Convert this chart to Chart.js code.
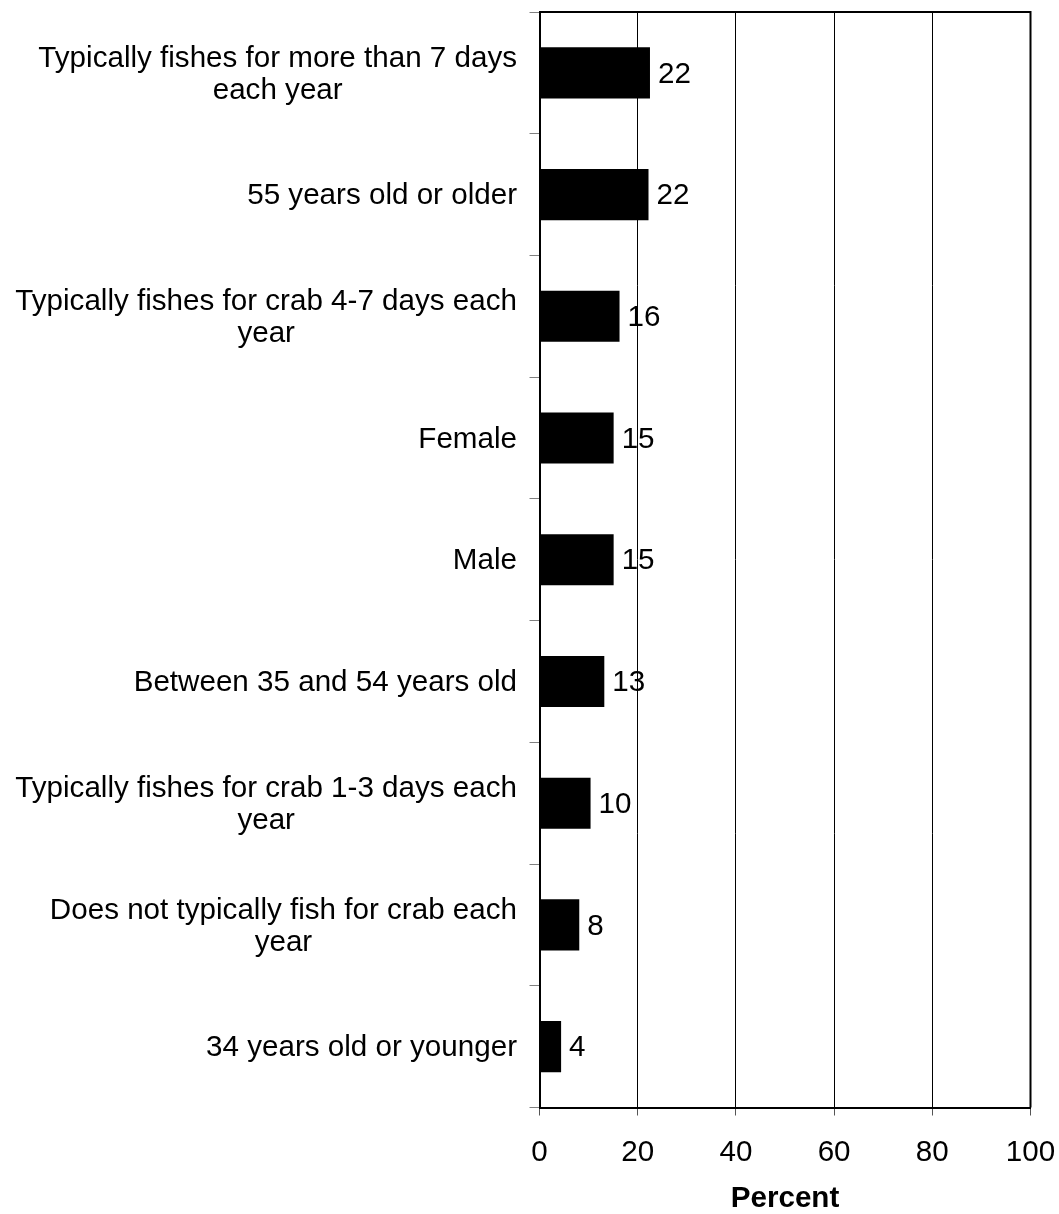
<!DOCTYPE html>
<html>
<head>
<meta charset="utf-8">
<script src="https://cdn.jsdelivr.net/npm/chart.js@4.4.1/dist/chart.umd.min.js"></script>
<style>
  body { margin: 0; background: #fff; }
  #wrap { width: 1059px; height: 1214px; position: relative; }
</style>
</head>
<body>
<div id="wrap"><canvas id="chart"></canvas></div>
<script>
const categories = [
  ["Typically fishes for more than 7 days", "each year"],
  ["55 years old or older"],
  ["Typically fishes for crab 4-7 days each", "year"],
  ["Female"],
  ["Male"],
  ["Between 35 and 54 years old"],
  ["Typically fishes for crab 1-3 days each", "year"],
  ["Does not typically fish for crab each", "year"],
  ["34 years old or younger"]
];
const percents = [22.5, 22.2, 16.3, 15.1, 15.1, 13.2, 10.4, 8.1, 4.4];
const shownLabels = ["22", "22", "16", "15", "15", "13", "10", "8", "4"];
const xTicks = [0, 20, 40, 60, 80, 100];

const FONT = "'Liberation Sans', Arial, sans-serif";
const SIZE = 29.6;

// category labels: right aligned block, extra lines centred under the first
const catLabels = {
  id: 'catLabels',
  afterDraw(chart) {
    const ctx = chart.ctx;
    const y = chart.scales.y;
    const right = chart.chartArea.left - 22.5;
    ctx.save();
    ctx.font = SIZE + "px " + FONT;
    ctx.fillStyle = "#000";
    ctx.textAlign = "center";
    ctx.textBaseline = "middle";
    const lh = 32;
    categories.forEach((lines, i) => {
      const cy = y.getPixelForTick(i) + 1.5;
      const w = Math.max(...lines.map(l => ctx.measureText(l).width));
      const cx = right - w / 2;
      const top = cy - (lines.length - 1) * lh / 2;
      lines.forEach((l, j) => ctx.fillText(l, cx, top + j * lh));
    });
    ctx.restore();
  }
};

const valueLabels = {
  id: 'valueLabels',
  afterDatasetsDraw(chart) {
    const ctx = chart.ctx;
    const meta = chart.getDatasetMeta(0);
    ctx.save();
    ctx.font = SIZE + "px " + FONT;
    ctx.fillStyle = "#000";
    ctx.textAlign = "left";
    ctx.textBaseline = "middle";
    meta.data.forEach((bar, i) => {
      ctx.fillText(shownLabels[i], bar.x + 8, bar.y + 1.5);
    });
    ctx.restore();
  }
};

const frame = {
  id: 'frame',
  afterDraw(chart) {
    const a = chart.chartArea;
    const ctx = chart.ctx;
    ctx.save();
    ctx.strokeStyle = "#000";
    ctx.lineWidth = 2;
    ctx.beginPath();
    ctx.moveTo(a.left, a.top);
    ctx.lineTo(a.right, a.top);
    ctx.lineTo(a.right, a.bottom);
    ctx.stroke();
    ctx.restore();
  }
};

new Chart(document.getElementById("chart"), {
  type: 'bar',
  data: {
    labels: categories.map(c => c.join(" ")),
    datasets: [{
      data: percents,
      backgroundColor: "#000",
      borderWidth: 0,
      barPercentage: 0.42,
      categoryPercentage: 1
    }]
  },
  options: {
    indexAxis: 'y',
    responsive: true,
    maintainAspectRatio: false,
    animation: false,
    layout: { padding: { top: 12, right: 28.5, left: 0, bottom: 0 } },
    plugins: {
      legend: { display: false },
      tooltip: { enabled: false }
    },
    scales: {
      x: {
        min: 0,
        max: 100,
        afterBuildTicks(scale) { scale.ticks = xTicks.map(v => ({ value: v })); },
        afterFit(scale) {
          scale.height = 106.5;
          scale.paddingLeft = 0;
          scale.paddingRight = 0;
        },
        grid: { color: "#000", lineWidth: 1, tickLength: 8, tickColor: "#555" },
        border: { color: "#000", width: 2 },
        ticks: { color: "#000", font: { family: FONT, size: SIZE }, padding: 20, maxRotation: 0 },
        title: {
          display: true,
          text: "Percent",
          color: "#000",
          font: { family: FONT, size: SIZE, weight: 'bold', lineHeight: 1 },
          padding: 0
        }
      },
      y: {
        afterFit(scale) { scale.width = 539.5; },
        grid: { display: true, drawOnChartArea: false, tickLength: 10, tickColor: "#808080", offset: true },
        border: { color: "#000", width: 2 },
        ticks: { display: false }
      }
    }
  },
  plugins: [catLabels, valueLabels, frame]
});
</script>
</body>
</html>
